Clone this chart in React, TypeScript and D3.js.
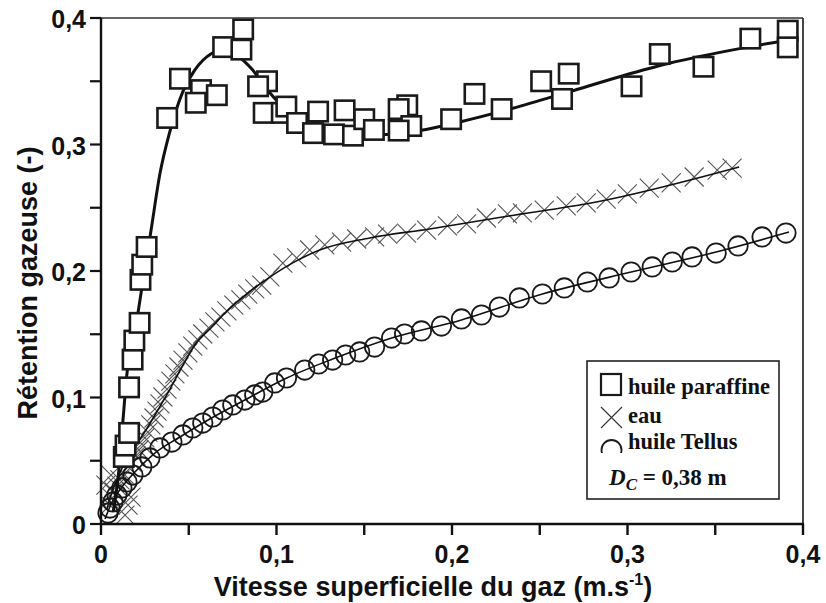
import * as d3 from 'd3';
import * as React from 'react';

// axis ticks
const xTickValues = [0, 0.05, 0.1, 0.15, 0.2, 0.25, 0.3, 0.35, 0.4];
const yTickValues = [0, 0.05, 0.1, 0.15, 0.2, 0.25, 0.3, 0.35, 0.4];
const labelledTicks = [0, 0.1, 0.2, 0.3, 0.4];

// huile paraffine (squares)
const paraffine: [number, number][] = [
  [0.013, 0.053], [0.014, 0.062], [0.016, 0.072], [0.016, 0.108], [0.018, 0.130],
  [0.019, 0.145], [0.022, 0.159], [0.0225, 0.193], [0.0235, 0.205], [0.026, 0.219],
  [0.0377, 0.321], [0.045, 0.352], [0.057, 0.343], [0.054, 0.333], [0.066, 0.339],
  [0.0696, 0.377], [0.081, 0.391], [0.080, 0.375], [0.0946, 0.350], [0.0895, 0.346],
  [0.0927, 0.325], [0.103, 0.325], [0.1056, 0.330], [0.1117, 0.317], [0.1237, 0.326],
  [0.1208, 0.309], [0.1328, 0.308], [0.1388, 0.327], [0.1436, 0.307], [0.150, 0.320],
  [0.1555, 0.3115], [0.1745, 0.331], [0.1696, 0.328], [0.1768, 0.3146], [0.1696, 0.311],
  [0.1995, 0.320], [0.2128, 0.340], [0.2283, 0.328], [0.2508, 0.350], [0.2665, 0.356],
  [0.2627, 0.336], [0.3023, 0.346], [0.3184, 0.3715], [0.3433, 0.3615], [0.370, 0.3837],
  [0.3913, 0.390], [0.3913, 0.3768],
];

// fitted curve through the paraffine points
const paraffineFit: [number, number][] = [
  [0.007, 0.01], [0.01, 0.04], [0.0127, 0.085], [0.0146, 0.1165], [0.0212, 0.168],
  [0.0231, 0.185], [0.0285, 0.232], [0.0336, 0.277], [0.039, 0.309], [0.0467, 0.342],
  [0.0535, 0.359], [0.063, 0.372], [0.07, 0.375], [0.078, 0.370], [0.0857, 0.360],
  [0.095, 0.343], [0.10, 0.335], [0.115, 0.322], [0.13, 0.314], [0.15, 0.309],
  [0.1625, 0.308], [0.1815, 0.311], [0.205, 0.318], [0.2346, 0.3286], [0.2668, 0.3417],
  [0.297, 0.3542], [0.3237, 0.3642], [0.3646, 0.376], [0.392, 0.3826],
];

// eau (crosses)
const eau: [number, number][] = [
  [0.0028, 0.0308], [0.0057, 0.0387], [0.0137, 0.0071], [0.0154, 0.0150], [0.0171, 0.0213],
  [0.0051, 0.0150], [0.0063, 0.0206], [0.0074, 0.0253], [0.0091, 0.0300], [0.0108, 0.0348],
  [0.0131, 0.0395], [0.0154, 0.0451], [0.0176, 0.0490], [0.0199, 0.0538], [0.0216, 0.0585],
  [0.0233, 0.0632], [0.0250, 0.0680], [0.0267, 0.0727], [0.0284, 0.0783], [0.0302, 0.0838],
  [0.0319, 0.0893], [0.0336, 0.0949], [0.0353, 0.1004], [0.0376, 0.1067], [0.0398, 0.1130],
  [0.0421, 0.1186], [0.0444, 0.1241], [0.0467, 0.1296], [0.0495, 0.1352], [0.0523, 0.1407],
  [0.0552, 0.1455], [0.0580, 0.1502], [0.0615, 0.1549], [0.0649, 0.1597], [0.0683, 0.1636],
  [0.0717, 0.1684], [0.0757, 0.1731], [0.0797, 0.1771], [0.0836, 0.1818], [0.0876, 0.1858],
  [0.0916, 0.1889], [0.0962, 0.1953], [0.1036, 0.2063], [0.1115, 0.2103], [0.1189, 0.2166],
  [0.1275, 0.2206], [0.1371, 0.2229], [0.1457, 0.2253], [0.1559, 0.2269], [0.1633, 0.2292],
  [0.1741, 0.2300], [0.1855, 0.2324], [0.1974, 0.2356], [0.2083, 0.2372], [0.2196, 0.2419],
  [0.2316, 0.2451], [0.2401, 0.2459], [0.2526, 0.2482], [0.2651, 0.2514], [0.2765, 0.2538],
  [0.2879, 0.2569], [0.2999, 0.2609], [0.3124, 0.2656], [0.3249, 0.2696], [0.3380, 0.2743],
  [0.3511, 0.2798], [0.3596, 0.2814],
];

const eauFit: [number, number][] = [
  [0.0032, 0.0111], [0.0061, 0.0245], [0.0097, 0.0372], [0.0154, 0.0530], [0.0211, 0.0648],
  [0.0267, 0.0767], [0.0324, 0.0901], [0.0381, 0.1036], [0.0461, 0.1241], [0.0535, 0.1415],
  [0.0632, 0.1557], [0.0723, 0.1692], [0.0836, 0.1826], [0.0950, 0.1940], [0.1087, 0.2060],
  [0.1246, 0.2166], [0.1531, 0.2261], [0.1872, 0.2332], [0.2287, 0.2427], [0.2822, 0.2545],
  [0.3636, 0.2822],
];

// huile Tellus (circles)
const tellus: [number, number][] = [
  [0.0040, 0.0087], [0.0051, 0.0126], [0.0068, 0.0174], [0.0091, 0.0229], [0.0119, 0.0285],
  [0.0148, 0.0332], [0.0182, 0.0387], [0.0233, 0.0451], [0.0279, 0.0522], [0.0336, 0.0601],
  [0.0404, 0.0648], [0.0467, 0.0704], [0.0523, 0.0759], [0.0580, 0.0798], [0.0637, 0.0846],
  [0.0694, 0.0901], [0.0751, 0.0941], [0.0819, 0.0980], [0.0876, 0.1020], [0.0922, 0.1043],
  [0.0990, 0.1115], [0.1057, 0.1154], [0.1161, 0.1217], [0.1240, 0.1265], [0.1320, 0.1296],
  [0.1394, 0.1336], [0.1474, 0.1360], [0.1559, 0.1399], [0.1656, 0.1470], [0.1730, 0.1502],
  [0.1826, 0.1526], [0.1940, 0.1565], [0.2054, 0.1621], [0.2168, 0.1652], [0.2270, 0.1715],
  [0.2384, 0.1787], [0.2515, 0.1818], [0.2640, 0.1866], [0.2771, 0.1913], [0.2896, 0.1945],
  [0.3021, 0.1992], [0.3141, 0.2032], [0.3255, 0.2071], [0.3368, 0.2111], [0.3505, 0.2142],
  [0.3630, 0.2198], [0.3767, 0.2269], [0.3903, 0.2300],
];

const tellusFit: [number, number][] = [
  [0.0023, 0.0040], [0.0063, 0.0174], [0.0119, 0.0292], [0.0193, 0.0411], [0.0307, 0.0561],
  [0.0450, 0.0688], [0.0620, 0.0830], [0.0819, 0.0980], [0.1058, 0.1154], [0.1320, 0.1304],
  [0.1656, 0.1470], [0.2054, 0.1613], [0.2515, 0.1818], [0.3021, 0.1992], [0.3505, 0.2150],
  [0.3920, 0.2308],
];

const sans = "'Liberation Sans', Arial, sans-serif";
const serif = "'Liberation Serif', 'Times New Roman', serif";

const fmt = (v: number) => (v === 0 ? '0' : d3.format('.1f')(v).replace('.', ','));

export default function App() {
  const width = 826;
  const height = 603;
  const x = d3.scaleLinear().domain([0, 0.4]).range([101, 803]);
  const y = d3.scaleLinear().domain([0, 0.4]).range([524, 18]);

  const line = d3.line<[number, number]>()
    .x(d => x(d[0]))
    .y(d => y(d[1]))
    .curve(d3.curveMonotoneX);

  const sq = 9.7;
  const cr = 9.7;
  const xs = 9.5;

  return (
    <svg
      width={width}
      height={height}
      style={{ position: 'absolute', left: 0, top: 0, background: '#fff' }}
    >
      <defs>
        <clipPath id="legend-circle-clip">
          <rect x={595} y={430} width={40} height={23} />
        </clipPath>
      </defs>

      {/* eau */}
      <g stroke="#555" strokeWidth={1.1} fill="none">
        {eau.map((d, i) => (
          <path
            key={i}
            d={`M${x(d[0]) - xs},${y(d[1]) - xs}L${x(d[0]) + xs},${y(d[1]) + xs}M${x(d[0]) - xs},${y(d[1]) + xs}L${x(d[0]) + xs},${y(d[1]) - xs}`}
          />
        ))}
      </g>
      <path d={line(eauFit) ?? ''} fill="none" stroke="#111" strokeWidth={1.6} />

      {/* huile Tellus */}
      <g stroke="#1a1a1a" strokeWidth={1.8} fill="none">
        {tellus.map((d, i) => (
          <circle key={i} cx={x(d[0])} cy={y(d[1])} r={cr} />
        ))}
      </g>
      <path d={line(tellusFit) ?? ''} fill="none" stroke="#111" strokeWidth={1.6} />

      {/* huile paraffine */}
      <path d={line(paraffineFit) ?? ''} fill="none" stroke="#111" strokeWidth={3} />
      <g stroke="#1a1a1a" strokeWidth={2.6} fill="#fff">
        {paraffine.map((d, i) => (
          <rect key={i} x={x(d[0]) - sq} y={y(d[1]) - sq} width={sq * 2} height={sq * 2} />
        ))}
      </g>

      {/* frame */}
      <line x1={x(0)} x2={x(0.4)} y1={y(0.4)} y2={y(0.4)} stroke="#333" strokeWidth={1.6} />
      <line x1={x(0.4)} x2={x(0.4)} y1={y(0.4)} y2={y(0)} stroke="#333" strokeWidth={1.8} />
      <line x1={x(0)} x2={x(0)} y1={y(0.4)} y2={y(0) + 1} stroke="#111" strokeWidth={2.4} />
      <line x1={x(0) - 1} x2={x(0.4) + 1} y1={y(0)} y2={y(0)} stroke="#111" strokeWidth={2.6} />

      {/* y axis */}
      {yTickValues.map(v => (
        <line key={v} x1={x(0) - 11} x2={x(0)} y1={y(v)} y2={y(v)} stroke="#111" strokeWidth={2.2} />
      ))}
      {labelledTicks.map(v => (
        <text
          key={v}
          x={86}
          y={y(v) + 10}
          textAnchor="end"
          fontFamily={sans}
          fontWeight="bold"
          fontSize={25}
          fill="#111"
        >
          {fmt(v)}
        </text>
      ))}

      {/* x axis */}
      {xTickValues.map(v => (
        <line key={v} x1={x(v)} x2={x(v)} y1={y(0)} y2={y(0) + 11} stroke="#111" strokeWidth={2.4} />
      ))}
      {labelledTicks.map(v => (
        <text
          key={v}
          x={x(v)}
          y={563}
          textAnchor="middle"
          fontFamily={sans}
          fontWeight="bold"
          fontSize={25}
          fill="#111"
        >
          {fmt(v)}
        </text>
      ))}

      {/* axis titles */}
      <text
        x={433}
        y={596}
        textAnchor="middle"
        fontFamily={sans}
        fontWeight="bold"
        fontSize={27}
        fill="#111"
      >
        Vitesse superficielle du gaz (m.s
        <tspan fontSize={16} dy={-11}>-1</tspan>
        <tspan fontSize={27} dy={11}>)</tspan>
      </text>
      <text
        transform="translate(37,283) rotate(-90)"
        textAnchor="middle"
        fontFamily={sans}
        fontWeight="bold"
        fontSize={27}
        fill="#111"
      >
        Rétention gazeuse (-)
      </text>

      {/* legend */}
      <rect x={587} y={361} width={192} height={138} fill="#fff" stroke="#222" strokeWidth={1.6} />
      <rect x={601} y={374} width={20} height={21} fill="#fff" stroke="#1a1a1a" strokeWidth={2.2} />
      <path d="M601,407L622,428M601,428L622,407" stroke="#333" strokeWidth={1.1} fill="none" />
      <circle
        cx={611.5}
        cy={450}
        r={10}
        fill="none"
        stroke="#1a1a1a"
        strokeWidth={1.8}
        clipPath="url(#legend-circle-clip)"
      />
      <g fontFamily={serif} fontWeight="bold" fontSize={22.5} fill="#111">
        <text x={628} y={394}>huile paraffine</text>
        <text x={628} y={423}>eau</text>
        <text x={628} y={449}>huile Tellus</text>
        <text x={609} y={485} fontSize={23}>
          <tspan fontStyle="italic">D</tspan>
          <tspan fontStyle="italic" fontSize={17} dy={5}>C</tspan>
          <tspan dy={-5}> = 0,38 m</tspan>
        </text>
      </g>
    </svg>
  );
}
